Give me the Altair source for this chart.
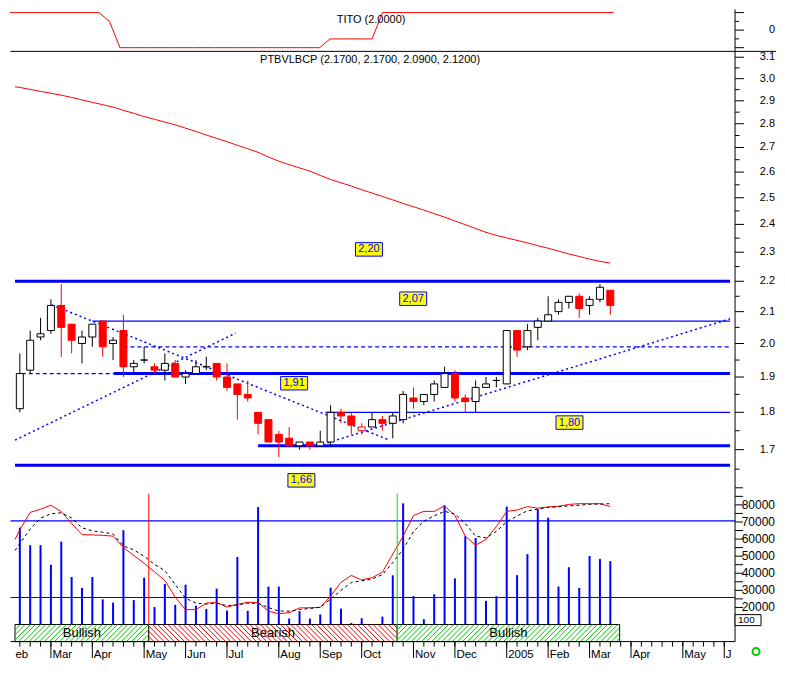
import altair as alt
import numpy as np
import pandas as pd

FONT = "Liberation Sans"

# ---------------- data (weekly bars, index 0 = mid Feb 2004) ----------------
week = list(range(58))
open_ = [1.81, 1.92, 2.02, 2.04, 2.12, 2.06, 2.00, 2.02, 2.07, 2.00,
         2.04, 1.93, 1.95, 1.93, 1.92, 1.94, 1.90, 1.91, 1.93, 1.94,
         1.90, 1.88, 1.85, 1.80, 1.78, 1.74, 1.73, 1.71, 1.72, 1.71,
         1.72, 1.80, 1.79, 1.75, 1.76, 1.78, 1.77, 1.78, 1.84, 1.83,
         1.85, 1.87, 1.91, 1.84, 1.83, 1.87, 1.89, 1.88, 2.04, 1.99,
         2.05, 2.07, 2.10, 2.13, 2.15, 2.12, 2.14, 2.17]
high = [1.97, 2.04, 2.08, 2.14, 2.19, 2.06, 2.04, 2.06, 2.07, 2.02,
        2.09, 1.95, 1.99, 1.94, 1.97, 1.95, 1.92, 1.95, 1.96, 1.94,
        1.94, 1.88, 1.89, 1.80, 1.78, 1.75, 1.76, 1.72, 1.72, 1.75,
        1.82, 1.81, 1.80, 1.77, 1.80, 1.79, 1.80, 1.86, 1.87, 1.85,
        1.89, 1.93, 1.92, 1.85, 1.89, 1.90, 1.90, 2.04, 2.04, 2.06,
        2.08, 2.15, 2.14, 2.15, 2.16, 2.15, 2.19, 2.17]
low = [1.80, 1.91, 2.01, 2.03, 1.96, 1.97, 1.94, 1.99, 1.96, 1.95,
       1.90, 1.91, 1.94, 1.91, 1.89, 1.90, 1.88, 1.91, 1.92, 1.89,
       1.86, 1.78, 1.83, 1.74, 1.72, 1.68, 1.71, 1.70, 1.70, 1.71,
       1.71, 1.77, 1.74, 1.74, 1.76, 1.75, 1.73, 1.77, 1.81, 1.82,
       1.83, 1.87, 1.83, 1.80, 1.80, 1.87, 1.87, 1.88, 1.96, 1.98,
       2.01, 2.07, 2.09, 2.11, 2.08, 2.09, 2.13, 2.09]
close = [1.91, 2.01, 2.03, 2.12, 2.05, 2.01, 2.02, 2.06, 1.99, 2.01,
         1.93, 1.94, 1.95, 1.92, 1.94, 1.90, 1.91, 1.93, 1.93, 1.90,
         1.87, 1.85, 1.84, 1.77, 1.72, 1.72, 1.71, 1.72, 1.71, 1.72,
         1.80, 1.79, 1.765, 1.76, 1.78, 1.77, 1.79, 1.85, 1.83, 1.85,
         1.88, 1.91, 1.84, 1.83, 1.87, 1.88, 1.89, 2.04, 1.98, 2.04,
         2.07, 2.09, 2.13, 2.15, 2.11, 2.14, 2.18, 2.12]
volume = [66700, 56400, 56400, 45000, 58500, 37800, 31400, 37800, 24700, 22800,
          65200, 24300, 37400, 20200, 33700, 21500, 33300, 21000, 19100, 31000,
          18200, 49500, 18000, 78700, 32200, 32200, 13500, 17800, 13500, 15900,
          31600, 19300, 10900, 13700, 9000, 14600, 38800, 80900, 26600, 13100,
          27700, 79800, 37000, 61700, 60600, 23800, 26600, 79000, 38900, 51200,
          77500, 72500, 32200, 43500, 31400, 50100, 48400, 47100]
vol_fast = [65400, 75600, 77500, 79800, 76100, 69100, 62600, 62400, 62200, 61700,
            55100, 50400, 45800, 40800, 35800, 26000, 18700, 18700, 22500, 22900,
            20200, 21800, 23000, 22900, 17800, 16300, 16900, 19700, 19800, 20000,
            26600, 34700, 38700, 36100, 37400, 40600, 51200, 61700, 73800, 76200,
            76200, 79400, 73800, 61700, 56400, 59800, 67300, 76200, 77000, 79000,
            78100, 78800, 79200, 80300, 80700, 80700, 80700, 79000]
vol_slow = [57400, 65800, 72200, 74800, 75400, 72300, 66600, 64800, 64000, 63000,
            56000, 53700, 49900, 45200, 41500, 33400, 25400, 22500, 22000, 22500,
            21000, 21500, 22500, 22400, 19900, 17900, 17800, 18700, 19400, 20100,
            24900, 30000, 34600, 35500, 36600, 39200, 46200, 54000, 64400, 70500,
            73600, 76200, 74700, 69100, 61700, 60700, 64500, 70100, 73500, 76600,
            77500, 78500, 78900, 79400, 79800, 80300, 80500, 80700]
ma_long = [2.960, 2.951, 2.942, 2.934, 2.925, 2.915, 2.904, 2.893, 2.883, 2.872,
           2.858, 2.845, 2.831, 2.819, 2.807, 2.795, 2.781, 2.767, 2.752, 2.738,
           2.724, 2.709, 2.695, 2.680, 2.661, 2.644, 2.630, 2.617, 2.604, 2.587,
           2.571, 2.558, 2.545, 2.531, 2.518, 2.505, 2.492, 2.478, 2.466, 2.453,
           2.440, 2.427, 2.413, 2.399, 2.385, 2.371, 2.360, 2.351, 2.342, 2.333,
           2.323, 2.314, 2.304, 2.294, 2.285, 2.276, 2.268, 2.262]
tito = [2] * 9 + [1] + [-2] * 20 + [-1] * 5 + [2] * 23

# values at the left edge of the chart (before the first bar)
edge_index = -0.467
edge_ma, edge_tito, edge_fast, edge_slow = 2.963, 2, 59800, 53300

month_index = [0, 3, 7, 12, 16, 20, 25, 29, 33, 38, 42, 47, 51, 55, 59, 64, 68]
month_label = ["eb", "Mar", "Apr", "May", "Jun", "Jul", "Aug", "Sep", "Oct",
               "Nov", "Dec", "2005", "Feb", "Mar", "Apr", "May", "J"]
week_ticks = list(range(0, 69))

price_ticks = [1.7, 1.8, 1.9, 2.0, 2.1, 2.2, 2.3, 2.4, 2.5, 2.6, 2.7, 2.8, 2.9, 3.0, 3.1]
price_minor = [1.65, 1.75, 1.85, 1.95, 2.05, 2.15, 2.25, 2.35, 2.45, 2.55, 2.65, 2.75, 2.85, 2.95, 3.05]
vol_ticks = list(range(10000, 90001, 5000))
vol_labels = [20000, 30000, 40000, 50000, 60000, 70000, 80000]
tito_ticks = [-2, 0, 2]
tito_minor = [-1, 1]

# support / resistance levels: (price, from-week, to-week)
thick_levels = [(2.20, -0.467, 68.56), (1.91, 9.06, 68.56), (1.71, 23.0, 68.56), (1.66, -0.467, 68.56)]
thin_levels = [(2.07, 7.0, 68.56), (1.80, 29.5, 68.56)]
dashed_levels = [(1.99, 10.0, 68.56), (1.91, 0.19, 9.06)]

# trend lines (week, price) end points
trend_a = [(3.08, 2.122), (35.68, 1.725)]
trend_b = [(-0.467, 1.725), (20.83, 2.032)]
trend_c = [(29.70, 1.718), (68.56, 2.077)]

note_text = ["2,20", "2,07", "1,91", "1,80", "1,66"]
note_week = [33.7, 37.97, 26.48, 53.06, 27.18]
note_price = [2.31, 2.142, 1.882, 1.772, 1.622]

band_from = [-0.467, 12.45, 36.43]
band_to = [12.45, 36.43, 57.9]
band_label = ["Bullish", "Bearish", "Bullish"]
band_top = 10000

vol_levels = [70600, 25800]

# ---------------- layout ----------------
XMIN, XMAX = -0.467, 68.56
W = 726
H1, H2, H3 = 42, 437, 154
KX = W / (XMAX - XMIN)
SX = W / 739
LAB_X = W + 40

xsc = alt.Scale(domain=[XMIN, XMAX], nice=False, zero=False)
tsc = alt.Scale(domain=[-2.42, 2.36], nice=False, zero=False)
psc = alt.Scale(type="log", domain=[1.6036, 3.128], nice=False, zero=False)
vsc = alt.Scale(domain=[0, 90000], nice=False, zero=False)

BLUE = "#0000ff"
RED = "#ff0000"
ONE = pd.DataFrame({"a": [0]})


def X(field="i"):
    return alt.X(f"{field}:Q", scale=xsc, axis=None, title=None)


def Y(field, scale):
    return alt.Y(f"{field}:Q", scale=scale, axis=None, title=None)


def right_axis(h, scale, ticks, tick_len, minor=None, minor_len=4.5, labels=None, fmt=str, size=11):
    """Axis on the right side drawn with marks through the panel's scale."""
    layers = [alt.Chart(ONE).mark_rule(color="black", strokeWidth=1).encode(
        x=alt.value(W), y=alt.value(0), y2=alt.value(h))]
    layers.append(alt.Chart(pd.DataFrame({"v": ticks})).mark_rule(color="black", strokeWidth=1).encode(
        y=Y("v", scale), x=alt.value(W), x2=alt.value(W + tick_len)))
    if minor:
        layers.append(alt.Chart(pd.DataFrame({"v": minor})).mark_rule(color="black", strokeWidth=1).encode(
            y=Y("v", scale), x=alt.value(W), x2=alt.value(W + minor_len)))
    if labels:
        ldf = pd.DataFrame({"v": labels, "t": [fmt(v) for v in labels]})
        layers.append(alt.Chart(ldf).mark_text(font=FONT, fontSize=size, color="black",
                                               align="right", baseline="middle").encode(
            y=Y("v", scale), x=alt.value(LAB_X), text="t:N"))
    return layers


# ---------------- TITO panel ----------------
tito_df = pd.DataFrame({"i": [edge_index] + week, "v": [edge_tito] + tito})
tito_line = alt.Chart(tito_df).mark_line(color=RED, strokeWidth=1).encode(x=X(), y=Y("v", tsc))
tito_text = alt.Chart(pd.DataFrame({"t": ["TITO (2.0000)"]})).mark_text(
    font=FONT, fontSize=11, color="black").encode(text="t:N", x=alt.value(368 * SX), y=alt.value(11))
tito_sep = alt.Chart(ONE).mark_rule(color="black", strokeWidth=1).encode(
    x=alt.value(0.5), x2=alt.value(W + 41), y=alt.value(H1))
tito_chart = alt.layer(
    tito_line, tito_text, tito_sep,
    *right_axis(H1, tsc, tito_ticks, 9, minor=tito_minor, minor_len=4, labels=[0]),
).properties(width=W, height=H1)

# ---------------- price panel ----------------
def level_layer(levels, **kw):
    df = pd.DataFrame({"p": [l[0] for l in levels], "a": [l[1] for l in levels],
                       "b": [l[2] for l in levels]})
    return alt.Chart(df).mark_rule(color=BLUE, **kw).encode(x=X("a"), x2="b:Q", y=Y("p", psc))


trend_rows = []
for name, pts in (("a", trend_a), ("b", trend_b), ("c", trend_c)):
    for (wk, pr) in pts:
        trend_rows.append({"id": name, "i": wk, "p": pr})
trend_layer = alt.Chart(pd.DataFrame(trend_rows)).mark_line(
    color=BLUE, strokeWidth=1.5, strokeDash=[2, 3]).encode(x=X(), y=Y("p", psc), detail="id:N")

ma_df = pd.DataFrame({"i": [edge_index] + week, "p": [edge_ma] + ma_long})
ma_layer = alt.Chart(ma_df).mark_line(color=RED, strokeWidth=1).encode(x=X(), y=Y("p", psc))

cdf = pd.DataFrame({"i": week, "o": open_, "h": high, "l": low, "c": close})
prev_close = cdf["c"].shift(1)
down = (cdf["c"] < cdf["o"]) | (cdf["c"] < prev_close)
cdf["col"] = np.where(down, RED, "#000000")
cdf["fill"] = np.where(cdf["c"] < cdf["o"], RED, "#ffffff")

wicks = alt.Chart(cdf).mark_rule(strokeWidth=1).encode(
    x=X(), y=Y("l", psc), y2="h:Q", color=alt.Color("col:N", scale=None))
bodies = alt.Chart(cdf).mark_bar(width=7, strokeWidth=1).encode(
    x=X(), y=Y("o", psc), y2="c:Q",
    fill=alt.Fill("fill:N", scale=None), stroke=alt.Stroke("col:N", scale=None))

notes = pd.DataFrame({"t": note_text, "i": note_week, "p": note_price})
note_box = alt.Chart(notes).mark_point(
    shape="M-1,-0.5L1,-0.5L1,0.5L-1,0.5Z", size=729, filled=True, fill="#ffff00",
    stroke=BLUE, strokeWidth=1, opacity=1).encode(x=X(), y=Y("p", psc))
note_txt = alt.Chart(notes).mark_text(font=FONT, fontSize=11, color=BLUE).encode(
    x=X(), y=Y("p", psc), text="t:N")

header = alt.Chart(pd.DataFrame({"t": ["PTBVLBCP (2.1700, 2.1700, 2.0900, 2.1200)"]})).mark_text(
    font=FONT, fontSize=11, color="black").encode(text="t:N", x=alt.value(367 * SX), y=alt.value(9))

price_chart = alt.layer(
    level_layer(thin_levels, strokeWidth=1.2),
    level_layer(dashed_levels, strokeWidth=1.3, strokeDash=[4, 3]),
    level_layer(thick_levels, strokeWidth=3),
    trend_layer, ma_layer, wicks, bodies, note_box, note_txt, header,
    *right_axis(H2, psc, price_ticks, 9, minor=price_minor, labels=price_ticks,
                fmt=lambda v: f"{v:.1f}", size=11),
).properties(width=W, height=H2)

# ---------------- volume panel ----------------
vdf = pd.DataFrame({"i": week, "v": volume})
vol_bars = alt.Chart(vdf).mark_bar(width=2, color=BLUE).encode(x=X(), y=Y("v", vsc))
vol_lines = alt.Chart(pd.DataFrame({"v": vol_levels})).mark_rule(color=BLUE, strokeWidth=1.2).encode(
    x=alt.value(0.5), x2=alt.value(W), y=Y("v", vsc))
fast_df = pd.DataFrame({"i": [edge_index] + week, "v": [edge_fast] + vol_fast})
slow_df = pd.DataFrame({"i": [edge_index] + week, "v": [edge_slow] + vol_slow})
fast_line = alt.Chart(fast_df).mark_line(color=RED, strokeWidth=1).encode(x=X(), y=Y("v", vsc))
slow_line = alt.Chart(slow_df).mark_line(color="black", strokeWidth=1, strokeDash=[3, 3]).encode(
    x=X(), y=Y("v", vsc))

signal_red = alt.Chart(pd.DataFrame({"i": [12.45], "a": [86500], "b": [band_top]})).mark_rule(
    color=RED, strokeWidth=1).encode(x=X(), y=Y("a", vsc), y2="b:Q")
signal_green = alt.Chart(pd.DataFrame({"i": [36.43], "a": [86500], "b": [0]})).mark_rule(
    color="#00e000", strokeWidth=1).encode(x=X(), y=Y("a", vsc), y2="b:Q")

band_df = pd.DataFrame({"a": band_from, "b": band_to, "lab": band_label,
                        "y0": [0] * 3, "y1": [band_top] * 3})
band_df["m"] = (band_df["a"] + band_df["b"]) / 2
band_df["ym"] = band_top / 2
band_rect = alt.Chart(band_df).mark_rect(fill="white", stroke="black", strokeWidth=1).encode(
    x=X("a"), x2="b:Q", y=Y("y0", vsc), y2="y1:Q")
band_text = alt.Chart(band_df).mark_text(font=FONT, fontSize=13, color="black").encode(
    x=X("m"), y=Y("ym", vsc), text="lab:N")

# diagonal hatching inside the band segments
band_px = band_top / 90000 * H3
run = band_px / KX
step = 5.3 * SX / KX
hatch = []
for a, b, lab in zip(band_from, band_to, band_label):
    up = lab == "Bullish"
    for x0 in np.arange(a - run, b, step):
        t0 = max(0.0, (a - x0) / run)
        t1 = min(1.0, (b - x0) / run)
        if t1 <= t0:
            continue
        v0 = t0 * band_top if up else (1 - t0) * band_top
        v1 = t1 * band_top if up else (1 - t1) * band_top
        hatch.append({"xa": x0 + t0 * run, "xb": x0 + t1 * run, "va": v0, "vb": v1,
                      "c": "#00cc00" if up else RED})
hatch_layer = alt.Chart(pd.DataFrame(hatch)).mark_rule(strokeWidth=1).encode(
    x=X("xa"), x2="xb:Q", y=Y("va", vsc), y2="vb:Q", color=alt.Color("c:N", scale=None))

# bottom time axis
x_domain = alt.Chart(ONE).mark_rule(color="black", strokeWidth=1).encode(
    x=alt.value(0.5), x2=alt.value(W), y=alt.value(H3))
week_tick_layer = alt.Chart(pd.DataFrame({"i": week_ticks})).mark_rule(color="black", strokeWidth=1).encode(
    x=X(), y=alt.value(H3), y2=alt.value(H3 + 5))
month_tick_layer = alt.Chart(pd.DataFrame({"i": month_index[1:]})).mark_rule(color="black", strokeWidth=1).encode(
    x=X(), y=alt.value(H3), y2=alt.value(H3 + 16.4))
mdf = pd.DataFrame({"i": month_index, "t": month_label})
month_text = alt.Chart(mdf.iloc[1:]).mark_text(
    font=FONT, fontSize=11.5, color="black", align="left", baseline="alphabetic", dx=1.5).encode(
    x=X(), y=alt.value(H3 + 16.2), text="t:N")
first_month_text = alt.Chart(mdf.iloc[:1]).mark_text(
    font=FONT, fontSize=11.5, color="black", align="center", baseline="alphabetic", dx=2).encode(
    x=X(), y=alt.value(H3 + 16.2), text="t:N")

corner_box = alt.Chart(ONE).mark_rect(fill="white", stroke="black", strokeWidth=1).encode(
    x=alt.value(W), x2=alt.value(W + 26), y=alt.value(127), y2=alt.value(138))
corner_txt = alt.Chart(pd.DataFrame({"t": ["100"]})).mark_text(
    font=FONT, fontSize=10, color="black", align="left", baseline="middle").encode(
    text="t:N", x=alt.value(W + 3), y=alt.value(132.5))
ring = alt.Chart(ONE).mark_point(
    shape="circle", size=50, filled=False, stroke="#00cc00", strokeWidth=2, opacity=1).encode(
    x=alt.value(W + 21), y=alt.value(H3 + 10))

vol_chart = alt.layer(
    vol_bars, vol_lines, fast_line, slow_line, signal_red,
    band_rect, hatch_layer, band_text, signal_green,
    x_domain, week_tick_layer, month_tick_layer, month_text, first_month_text,
    *right_axis(H3, vsc, vol_ticks, 8, labels=vol_labels, fmt=lambda v: str(v), size=12),
    corner_box, corner_txt, ring,
).properties(width=W, height=H3)

chart = alt.vconcat(tito_chart, price_chart, vol_chart, spacing=0, bounds="flush").properties(
    padding={"left": 0, "top": 0, "right": 0, "bottom": 0},
    autosize=alt.AutoSizeParams(type="pad"),
).configure_view(stroke=None)

chart.save("out.html", embed_options={"renderer": "svg", "actions": False})
